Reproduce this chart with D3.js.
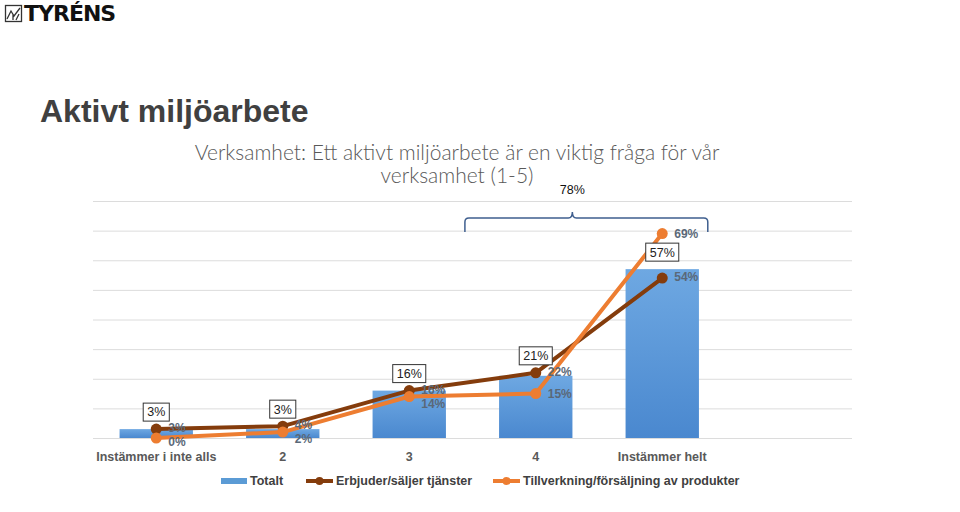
<!DOCTYPE html>
<html>
<head>
<meta charset="utf-8">
<script src="https://cdn.jsdelivr.net/npm/d3@7.9.0/dist/d3.min.js"></script>
<style>
  body { margin: 0; background: #fff; }
  svg { display: block; font-family: "Liberation Sans", Arial, sans-serif; }
</style>
</head>
<body>
<svg id="chart" width="960" height="512"></svg>
<script>
const categories = ["Instämmer i inte alls", "2", "3", "4", "Instämmer helt"];
const totalt = [3, 3, 16, 21, 57];
const tjanster = [3, 4, 16, 22, 54];
const produkter = [0, 2, 14, 15, 69];
const seriesNames = ["Totalt", "Erbjuder/säljer tjänster", "Tillverkning/försäljning av produkter"];
const yTicks = [0, 10, 20, 30, 40, 50, 60, 70, 80];

const svg = d3.select("#chart");
const darkCol = "#843c0c", orangeCol = "#ed7d31", labelCol = "#5a6878";

// logo
const logo = svg.append("g").attr("transform", "translate(5,5)");
logo.append("rect").attr("x", 0.5).attr("y", 0.5).attr("width", 16).attr("height", 16)
  .attr("fill", "none").attr("stroke", "#333").attr("stroke-width", 1.3);
logo.append("path").attr("d", "M2,14 L6,6 L9,11 L15,3 M8,15 L8,9 M11,15 L14,9")
  .attr("fill", "none").attr("stroke", "#333").attr("stroke-width", 1.3);
svg.append("text").attr("x", 24).attr("y", 21).text("TYRÉNS")
  .attr("font-size", 22).attr("font-weight", 900).attr("fill", "#111")
  .attr("font-family", "'DejaVu Sans', sans-serif").attr("letter-spacing", -1);

// titles
svg.append("text").attr("x", 40).attr("y", 122).text("Aktivt miljöarbete")
  .attr("font-size", 32).attr("font-weight", "bold").attr("fill", "#404040");
const subFont = "Lato, 'Open Sans', sans-serif";
svg.append("text").attr("x", 457).attr("y", 160).attr("text-anchor", "middle")
  .text("Verksamhet: Ett aktivt miljöarbete är en viktig fråga för vår")
  .attr("font-size", 21).attr("font-weight", 300).attr("fill", "#595959")
  .attr("font-family", subFont);
svg.append("text").attr("x", 457).attr("y", 183).attr("text-anchor", "middle")
  .text("verksamhet (1-5)")
  .attr("font-size", 21).attr("font-weight", 300).attr("fill", "#595959")
  .attr("font-family", subFont);

// scales
const x = d3.scaleBand().domain([...categories, ""]).range([93, 852])
  .paddingInner(0.42).paddingOuter(0.21);
const y = d3.scaleLinear().domain([0, 80]).range([438, 201]);
const cx = (d) => x(d) + x.bandwidth() / 2;

const defs = svg.append("defs");
const grad = defs.append("linearGradient").attr("id", "barGrad")
  .attr("x1", 0).attr("y1", 0).attr("x2", 0).attr("y2", 1);
grad.append("stop").attr("offset", "0%").attr("stop-color", "#6ea8e2");
grad.append("stop").attr("offset", "100%").attr("stop-color", "#4a88cf");

// gridlines
svg.append("g").selectAll("line").data(yTicks).join("line")
  .attr("x1", 93).attr("x2", 852)
  .attr("y1", (d) => y(d) + 0.5).attr("y2", (d) => y(d) + 0.5)
  .attr("stroke", "#dcdcdc").attr("stroke-width", 1);

// bars
svg.append("g").selectAll("rect").data(totalt).join("rect")
  .attr("x", (d, i) => x(categories[i]))
  .attr("y", (d) => y(d))
  .attr("width", x.bandwidth())
  .attr("height", (d) => y(0) - y(d))
  .attr("fill", "url(#barGrad)");

// x labels
svg.append("g").selectAll("text").data(categories).join("text")
  .attr("x", (d) => cx(d)).attr("y", 461).attr("text-anchor", "middle")
  .text((d) => d).attr("font-size", 12.5).attr("font-weight", "bold").attr("fill", "#595959");

// lines
const line = d3.line().x((d, i) => cx(categories[i])).y((d) => y(d));
[[tjanster, darkCol], [produkter, orangeCol]].forEach(([vals, col]) => {
  svg.append("path").datum(vals).attr("d", line)
    .attr("fill", "none").attr("stroke", col).attr("stroke-width", 4)
    .attr("stroke-linejoin", "round");
  svg.append("g").selectAll("circle").data(vals).join("circle")
    .attr("cx", (d, i) => cx(categories[i])).attr("cy", (d) => y(d))
    .attr("r", 5.5).attr("fill", col);
});

// line labels
tjanster.forEach((v, i) => {
  svg.append("text").attr("x", cx(categories[i]) + 12).attr("y", y(v) - 1).attr("dy", "0.35em")
    .text(v + "%").attr("font-size", 12).attr("font-weight", "bold").attr("fill", labelCol);
});
produkter.forEach((v, i) => {
  let ly = y(v);
  const other = y(tjanster[i]) - 1;
  if (ly >= other) ly = Math.max(ly, other + 14);
  svg.append("text").attr("x", cx(categories[i]) + 12).attr("y", ly).attr("dy", "0.35em")
    .text(v + "%").attr("font-size", 12).attr("font-weight", "bold").attr("fill", labelCol);
});

// boxed Totalt labels
totalt.forEach((v, i) => {
  const yc = Math.min(y(v), y(tjanster[i])) - 17;
  const g = svg.append("g").attr("transform", `translate(${cx(categories[i])},${yc})`);
  const t = g.append("text").attr("text-anchor", "middle").attr("dy", "0.35em")
    .text(v + "%").attr("font-size", 12.5).attr("fill", "#222");
  const w = t.node().getComputedTextLength() + 8;
  g.insert("rect", "text").attr("x", -w / 2).attr("y", -9).attr("width", w).attr("height", 18)
    .attr("fill", "#fff").attr("stroke", "#333").attr("stroke-width", 1);
});

// bracket over the top two categories
const step = x.step();
const bx0 = cx(categories[3]) - 0.56 * step;
const bx1 = cx(categories[4]) + 0.36 * step;
const bm = (bx0 + bx1) / 2 - 14;
const by = 218;
svg.append("path")
  .attr("d", `M${bx0},${by + 14} L${bx0},${by + 4} Q${bx0},${by} ${bx0 + 4},${by} L${bm - 4},${by} Q${bm},${by} ${bm},${by - 6} Q${bm},${by} ${bm + 4},${by} L${bx1 - 4},${by} Q${bx1},${by} ${bx1},${by + 4} L${bx1},${by + 14}`)
  .attr("fill", "none").attr("stroke", "#3f5f8f").attr("stroke-width", 1.5);
svg.append("text").attr("x", bm).attr("y", 194).attr("text-anchor", "middle")
  .text((totalt[3] + totalt[4]) + "%").attr("font-size", 12.5).attr("fill", "#111");

// legend
const leg = svg.append("g").attr("font-size", 12.5).attr("font-weight", "bold").attr("fill", "#404040");
leg.append("rect").attr("x", 221).attr("y", 478).attr("width", 26).attr("height", 6).attr("fill", "#5b9bd5");
leg.append("text").attr("x", 250).attr("y", 481).attr("dy", "0.35em").text(seriesNames[0]);
[[306, darkCol, seriesNames[1]], [493, orangeCol, seriesNames[2]]].forEach(([lx, col, name]) => {
  leg.append("line").attr("x1", lx).attr("x2", lx + 27).attr("y1", 481).attr("y2", 481)
    .attr("stroke", col).attr("stroke-width", 4);
  leg.append("circle").attr("cx", lx + 13.5).attr("cy", 481).attr("r", 4).attr("fill", col);
  leg.append("text").attr("x", lx + 30).attr("y", 481).attr("dy", "0.35em").text(name);
});
</script>
</body>
</html>
